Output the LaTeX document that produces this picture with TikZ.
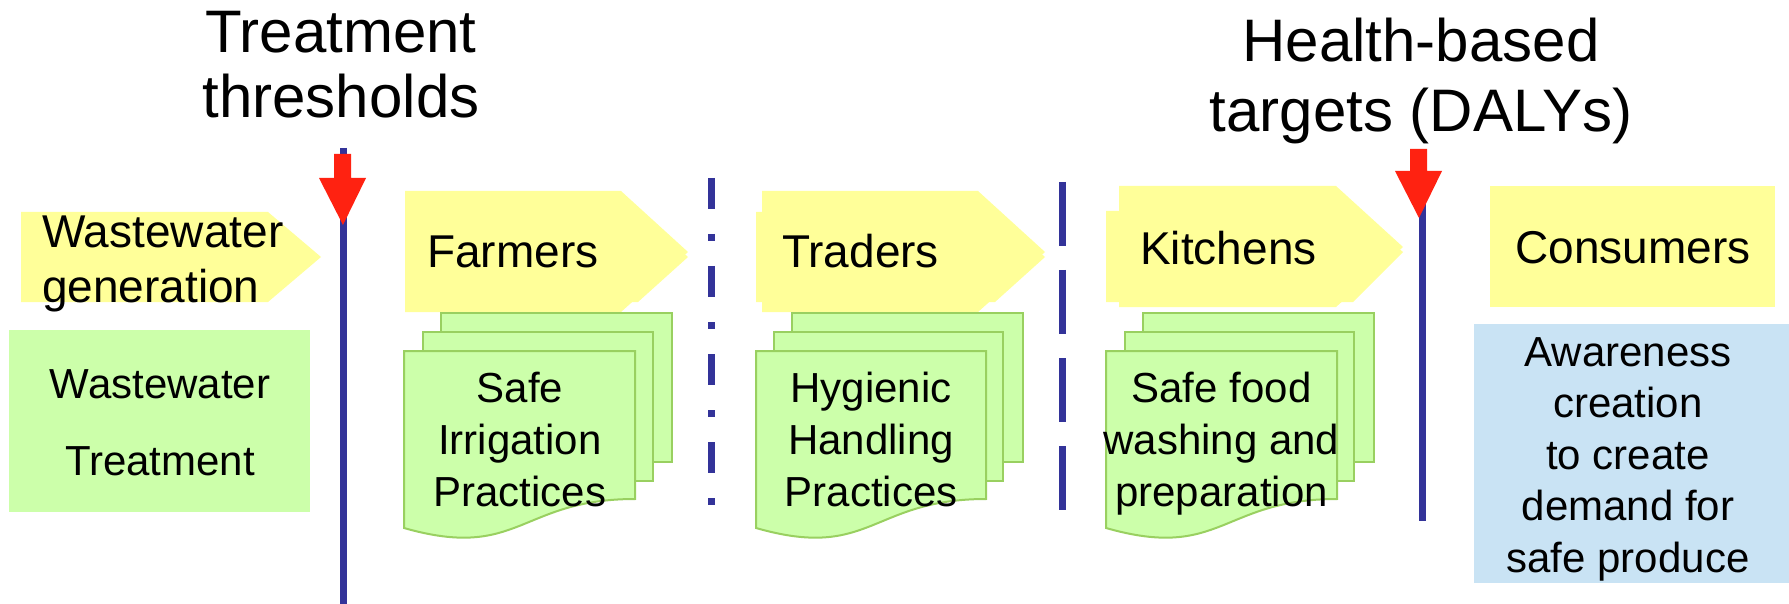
\documentclass[tikz,border=0pt]{standalone}
\usepackage{fontspec}
\setmainfont{Liberation Sans}
\definecolor{pyellow}{HTML}{FFFF99}
\definecolor{pgreen}{HTML}{CCFFAA}
\definecolor{pgreenline}{HTML}{99D060}
\definecolor{pblue}{HTML}{C9E3F4}
\definecolor{pnavy}{HTML}{333399}
\definecolor{pred}{HTML}{FF2211}
\begin{document}
\begin{tikzpicture}[x=1pt,y=-1pt,
  stagebox/.style={fill=pyellow},
  docbox/.style={fill=pgreen, draw=pgreenline, line width=2pt},
  barrier/.style={draw=pnavy, line width=7pt},
  redarrow/.style={fill=pred},
  stagelabel/.style={inner sep=0pt, font=\fontsize{46}{55}\selectfont},
  doclabel/.style={inner sep=0pt, align=center, font=\fontsize{42}{52}\selectfont},
  titlelabel/.style={inner sep=0pt, align=center, font=\fontsize{60}{65}\selectfont}]
\useasboundingbox (0,0) rectangle (1789,604);
\fill[white] (0,0) rectangle (1789,604);

% titles (anchor = baseline of last line)
\node[titlelabel, anchor=base] (t1) at (341,118) {Treatment\\thresholds};
\node[titlelabel, anchor=base, font=\fontsize{60}{70}\selectfont] (t2) at (1421,132) {Health-based\\targets (DALYs)};

% stage 0: wastewater generation
\fill[stagebox] (21,212) -- (268,212) -- (321,257) -- (268,302) -- (21,302) -- cycle;
\node[stagelabel, anchor=base west, align=left] (wg) at (42,302) {Wastewater\\generation};
\fill[fill=pgreen] (9,330) rectangle (310,512);
\node[doclabel, anchor=base, font=\fontsize{42}{77}\selectfont] (wt) at (160,475) {Wastewater\\Treatment};

% stage 1: farmers
\fill[stagebox] (405,212) -- (638,212) -- (688,257) -- (638,302) -- (405,302) -- cycle;
\fill[stagebox] (405,191) -- (621,191) -- (688,252) -- (621,312) -- (405,312) -- cycle;
\node[stagelabel, anchor=base west] (farmers) at (427,268) {Farmers};
\filldraw[docbox] (441,313) rectangle (672,462);
\filldraw[docbox] (423,332) rectangle (653,481);
\filldraw[docbox] (404,351) -- (635,351) -- (635,499) .. controls (519.5,499) and (519.5,561) .. (404,528) -- cycle;
\node[doclabel, anchor=base] (sip) at (520,506) {Safe\\Irrigation\\Practices};

% stage 2: traders
\fill[stagebox] (756,212) -- (995,212) -- (1045,257) -- (995,302) -- (756,302) -- cycle;
\fill[stagebox] (762,191) -- (978,191) -- (1045,252) -- (978,312) -- (762,312) -- cycle;
\node[stagelabel, anchor=base west] (traders) at (782,268) {Traders};
\filldraw[docbox] (792,313) rectangle (1023,462);
\filldraw[docbox] (774,332) rectangle (1003,481);
\filldraw[docbox] (756,351) -- (986,351) -- (986,499) .. controls (871,499) and (871,561) .. (756,528) -- cycle;
\node[doclabel, anchor=base] (hhp) at (871,506) {Hygienic\\Handling\\Practices};

% stage 3: kitchens
\fill[stagebox] (1106,211) -- (1353,211) -- (1403,252) -- (1353,302) -- (1106,302) -- cycle;
\fill[stagebox] (1119,186) -- (1336,186) -- (1403,247) -- (1336,307) -- (1119,307) -- cycle;
\node[stagelabel, anchor=base west] (kitchens) at (1140,265) {Kitchens};
\filldraw[docbox] (1143,313) rectangle (1374,462);
\filldraw[docbox] (1125,332) rectangle (1354,481);
\filldraw[docbox] (1106,351) -- (1337,351) -- (1337,499) .. controls (1221.5,499) and (1221.5,561) .. (1106,528) -- cycle;
\node[doclabel, anchor=base] (sfw) at (1221.5,506) {Safe food\\washing and\\preparation};

% stage 4: consumers
\fill[stagebox] (1490,186) rectangle (1775,307);
\node[stagelabel, anchor=base] (consumers) at (1633,263) {Consumers};
\fill[pblue] (1474,324) rectangle (1789,583);
\node[doclabel, anchor=base, font=\fontsize{42}{51.5}\selectfont] (aware) at (1628,572) {Awareness\\creation\\to create\\demand for\\safe produce};

% barriers
\coordinate (b1top) at (343,148);
\coordinate (b1bot) at (343,604);
\draw[barrier] (b1top) -- (b1bot);
\coordinate (b2top) at (711,178);
\coordinate (b2bot) at (711,505);
\draw[barrier, dash pattern=on 31pt off 25pt on 7pt off 25pt] (b2top) -- (b2bot);
\coordinate (b3top) at (1062,182);
\coordinate (b3bot) at (1062,510);
\draw[barrier, dash pattern=on 64pt off 24pt] (b3top) -- (b3bot);
\coordinate (b4top) at (1422,150);
\coordinate (b4bot) at (1422,521);
\draw[barrier] (b4top) -- (b4bot);

% red arrows
\fill[redarrow] (334,154) -- (351,154) -- (351,178) -- (366,178) -- (343,225) -- (319,178) -- (334,178) -- cycle;
\fill[redarrow] (1410,149) -- (1427,149) -- (1427,171) -- (1442,171) -- (1419,218) -- (1395,171) -- (1410,171) -- cycle;
\end{tikzpicture}
\end{document}
